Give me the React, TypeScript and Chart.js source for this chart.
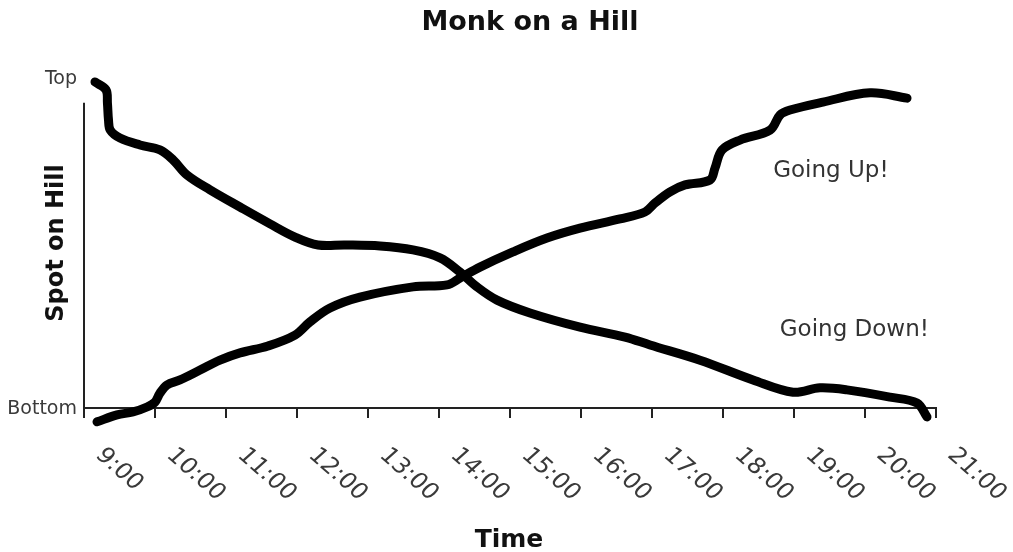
import React, { useEffect, useRef } from "react";
import { Chart, registerables } from "chart.js";

Chart.register(...registerables);

const chartTitle = "Monk on a Hill";
const xAxisTitle = "Time";
const yAxisTitle = "Spot on Hill";
const hourLabels = ["9:00", "10:00", "11:00", "12:00", "13:00", "14:00", "15:00", "16:00", "17:00", "18:00", "19:00", "20:00", "21:00"];
const hourValues = [9, 10, 11, 12, 13, 14, 15, 16, 17, 18, 19, 20, 21];
const yTickLabels = ["Bottom", "Top"];
const yTickValues = [0, 100];

const downHours = [9.155, 9.31, 9.33, 9.345, 9.37, 9.507, 9.789, 10.07, 10.254, 10.451, 10.775, 11.197, 11.62, 11.972, 12.296, 12.676, 13.169, 13.634, 14.014, 14.296, 14.535, 14.817, 15.282, 15.986, 16.62, 16.972, 17.676, 18.423, 18.986, 19.366, 19.746, 20.352, 20.732, 20.873];
const downLevels = [98.8, 96.4, 92.4, 87.3, 84.2, 81.8, 79.7, 78.2, 75.2, 70.6, 66.1, 60.9, 55.8, 51.8, 49.4, 49.4, 49.1, 47.9, 45.5, 41.2, 36.7, 32.7, 28.8, 24.5, 21.5, 19.1, 14.5, 8.5, 4.8, 6.1, 5.5, 3.3, 1.5, -2.7];

const upHours = [9.183, 9.465, 9.69, 9.887, 10.0, 10.07, 10.169, 10.352, 10.634, 10.915, 11.197, 11.592, 11.972, 12.183, 12.465, 12.887, 13.634, 14.113, 14.296, 14.577, 15.042, 15.521, 15.986, 16.549, 16.901, 17.042, 17.254, 17.465, 17.817, 17.887, 17.986, 18.239, 18.662, 18.803, 18.944, 19.408, 20.07, 20.592];
const upLevels = [-4.2, -2.1, -1.2, 0.3, 1.8, 4.5, 7.0, 8.5, 11.5, 14.5, 16.7, 18.8, 22.1, 26.1, 30.3, 33.6, 36.7, 37.3, 39.4, 42.7, 47.3, 51.5, 54.5, 57.3, 59.4, 62.1, 65.5, 67.6, 69.1, 72.7, 78.2, 81.2, 84.2, 88.8, 90.3, 92.7, 95.5, 93.9];

const annotations = [
  { text: "Going Up!", hour: 19.52, level: 71.8 },
  { text: "Going Down!", hour: 19.85, level: 23.6 },
];

const FONT = "'DejaVu Sans', sans-serif";

const textPlugin = {
  id: "monkText",
  afterDraw(chart: any) {
    const ctx = chart.ctx as CanvasRenderingContext2D;
    const xs = chart.scales.x;
    const ys = chart.scales.y;
    const area = chart.chartArea;
    ctx.save();
    // y axis line
    ctx.strokeStyle = "#222";
    ctx.lineWidth = 2;
    ctx.beginPath();
    ctx.moveTo(area.left, ys.getPixelForValue(92.5));
    ctx.lineTo(area.left, area.bottom + 10);
    ctx.stroke();

    // title
    ctx.fillStyle = "#111";
    ctx.font = `bold 27px ${FONT}`;
    ctx.textAlign = "center";
    ctx.textBaseline = "middle";
    ctx.fillText(chartTitle, 530, 23);

    // x tick labels
    ctx.fillStyle = "#3a3a3a";
    ctx.font = `22px ${FONT}`;
    ctx.textAlign = "left";
    ctx.textBaseline = "middle";
    hourValues.forEach((h, i) => {
      const px = xs.getPixelForValue(h);
      ctx.save();
      ctx.translate(px + 15, area.bottom + 44);
      ctx.scale(1.14, 1);
      ctx.rotate(Math.PI / 4);
      ctx.fillText(hourLabels[i], 0, 0);
      ctx.restore();
    });

    // y tick labels
    ctx.font = `19px ${FONT}`;
    ctx.textAlign = "right";
    ctx.fillStyle = "#3a3a3a";
    yTickValues.forEach((v, i) => {
      ctx.fillText(yTickLabels[i], area.left - 7, ys.getPixelForValue(v) + 1);
    });

    // axis titles
    ctx.fillStyle = "#111";
    ctx.font = `bold 25px ${FONT}`;
    ctx.textAlign = "center";
    ctx.fillText(xAxisTitle, 509, 540);
    ctx.save();
    ctx.translate(57, (area.top + area.bottom) / 2);
    ctx.rotate(-Math.PI / 2);
    ctx.font = `bold 24px ${FONT}`;
    ctx.fillText(yAxisTitle, 0, 0);
    ctx.restore();

    // annotations
    ctx.fillStyle = "#333";
    ctx.font = `23px ${FONT}`;
    annotations.forEach((a) => {
      ctx.fillText(a.text, xs.getPixelForValue(a.hour), ys.getPixelForValue(a.level));
    });
    ctx.restore();
  },
};

export default function App() {
  const ref = useRef<HTMLCanvasElement | null>(null);
  useEffect(() => {
    document.body.style.margin = "0";
    const canvas = ref.current;
    if (!canvas) return;
    const lineStyle = {
      borderColor: "#000",
      borderWidth: 9,
      pointRadius: 0,
      tension: 0.35,
      clip: false as any,
      borderCapStyle: "round" as const,
      borderJoinStyle: "round" as const,
      fill: false,
    };
    const chart = new Chart(canvas, {
      type: "line",
      data: {
        datasets: [
          {
            label: "Going Down",
            data: downHours.map((h, i) => ({ x: h, y: downLevels[i] })),
            ...lineStyle,
          },
          {
            label: "Going Up",
            data: upHours.map((h, i) => ({ x: h, y: upLevels[i] })),
            ...lineStyle,
          },
        ],
      },
      options: {
        animation: false,
        responsive: false,
        layout: { padding: { left: 84, right: 77, top: 78, bottom: 134 } },
        plugins: {
          legend: { display: false },
          tooltip: { enabled: false },
          title: { display: false },
        },
        scales: {
          x: {
            type: "linear",
            min: 9,
            max: 21,
            ticks: { display: false, stepSize: 1 },
            grid: { drawOnChartArea: false, drawTicks: true, tickLength: 10, color: "#222", lineWidth: 2 },
            border: { display: true, color: "#222", width: 2 },
          },
          y: {
            display: false,
            min: 0,
            max: 100,
          },
        },
      },
      plugins: [textPlugin],
    });
    return () => chart.destroy();
  }, []);
  return (
    <div style={{ width: 1013, height: 552 }}>
      <canvas ref={ref} width={1013} height={552} />
    </div>
  );
}
